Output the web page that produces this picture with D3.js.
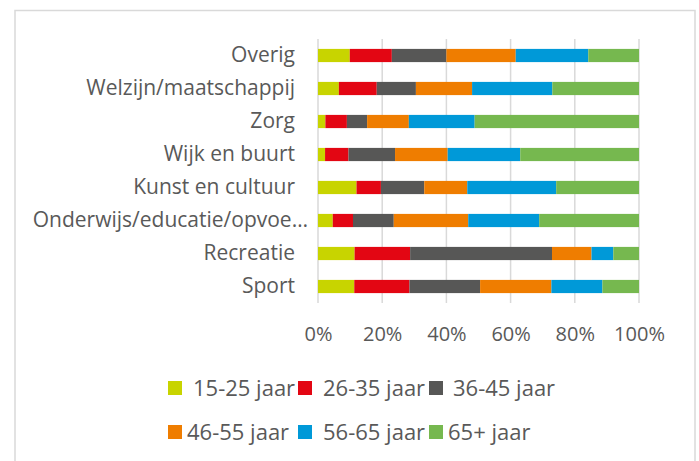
<!DOCTYPE html>
<html>
<head>
<meta charset="utf-8">
<script src="https://cdn.jsdelivr.net/npm/d3@7"></script>
<style>
  body { margin: 0; background: #fff; }
  svg text { font-family: "Open Sans", sans-serif; fill: #595959; }
</style>
</head>
<body>
<div id="chart"></div>
<script>
// categories top -> bottom
var categories = ["Overig", "Welzijn/maatschappij", "Zorg", "Wijk en buurt",
  "Kunst en cultuur", "Onderwijs/educatie/opvoe…", "Recreatie", "Sport"];
var ageGroups = ["15-25 jaar", "26-35 jaar", "36-45 jaar", "46-55 jaar", "56-65 jaar", "65+ jaar"];
var colors = ["#c8d400", "#e30613", "#575756", "#ef7d00", "#0099d8", "#76b84f"];

// share per age group (%), same order as categories
var age15_25 = [9.9, 6.5, 2.3, 2.2, 12.0, 4.6, 11.4, 11.3];
var age26_35 = [13.1, 11.8, 6.7, 7.3, 7.6, 6.3, 17.3, 17.2];
var age36_45 = [17.0, 12.2, 6.3, 14.5, 13.5, 12.7, 44.2, 22.0];
var age46_55 = [21.6, 17.5, 13.0, 16.4, 13.4, 23.2, 12.3, 22.2];
var age56_65 = [22.6, 25.0, 20.5, 22.6, 27.7, 22.1, 6.8, 15.9];
var age65plus = [15.8, 27.0, 51.2, 37.0, 25.8, 31.1, 8.0, 11.4];

var xTicks = [0, 20, 40, 60, 80, 100];

var width = 699, height = 461;
var margin = {top: 39, left: 318, right: 60, bottom: 158};

var series = [age15_25, age26_35, age36_45, age46_55, age56_65, age65plus];
var rows = categories.map(function(c, i) {
  var r = {cat: c};
  ageGroups.forEach(function(a, j) { r[a] = series[j][i]; });
  return r;
});
var stacked = d3.stack().keys(ageGroups)
  .offset(d3.stackOffsetExpand)(rows);

var svg = d3.select("#chart").append("svg")
  .attr("width", width).attr("height", height);

svg.append("rect")
  .attr("x", 15).attr("y", 10.5)
  .attr("width", 680).attr("height", 470)
  .attr("fill", "none").attr("stroke", "#d9d9d9").attr("stroke-width", 1.5);

var x = d3.scaleLinear().domain([0, 1]).range([margin.left, width - margin.right]);
var y = d3.scaleBand().domain(categories)
  .range([margin.top, height - margin.bottom]).paddingInner(0.6).paddingOuter(0.3);

// gridlines
svg.append("g").selectAll("line").data(xTicks).enter().append("line")
  .attr("x1", function(d) { return x(d / 100); })
  .attr("x2", function(d) { return x(d / 100); })
  .attr("y1", margin.top).attr("y2", height - margin.bottom)
  .attr("stroke", "#d9d9d9").attr("stroke-width", 1.5);

svg.append("g").selectAll("g").data(stacked).enter().append("g")
  .attr("fill", function(d, i) { return colors[i]; })
  .selectAll("rect").data(function(d) { return d; }).enter().append("rect")
  .attr("x", function(d) { return x(d[0]); })
  .attr("width", function(d) { return x(d[1]) - x(d[0]); })
  .attr("y", function(d) { return y(d.data.cat); })
  .attr("height", y.bandwidth());

// x axis labels
var xAxis = svg.append("g")
  .attr("transform", "translate(0," + (height - margin.bottom) + ")")
  .call(d3.axisBottom(x).tickValues(xTicks.map(function(d) { return d / 100; }))
    .tickFormat(d3.format(".0%")).tickSize(0).tickPadding(24));
xAxis.select(".domain").remove();
xAxis.selectAll("text").style("font-size", "20px").attr("fill", "#595959");

// y axis labels
var yAxis = svg.append("g")
  .attr("transform", "translate(" + (margin.left - 23) + ",0)")
  .call(d3.axisLeft(y).tickSize(0).tickPadding(0));
yAxis.select(".domain").remove();
yAxis.selectAll("text").style("font-size", "21px").attr("fill", "#595959")
  .attr("dx", function(d) { return d.indexOf("…") > 0 ? 13 : 0; });

// legend
var legendPos = [[168, 388, 25], [298, 388, 25], [429, 388, 24],
                 [168, 432, 19], [298, 432, 25], [429, 432, 19]];
var lg = svg.append("g").selectAll("g").data(ageGroups).enter().append("g")
  .attr("transform", function(d, i) { return "translate(" + legendPos[i][0] + "," + legendPos[i][1] + ")"; });
lg.append("rect").attr("x", 0).attr("y", -7).attr("width", 14).attr("height", 14)
  .attr("fill", function(d, i) { return colors[i]; });
lg.append("text")
  .attr("x", function(d, i) { return legendPos[i][2]; })
  .attr("dy", "0.35em")
  .style("font-size", "22px")
  .text(function(d) { return d; });
</script>
</body>
</html>
